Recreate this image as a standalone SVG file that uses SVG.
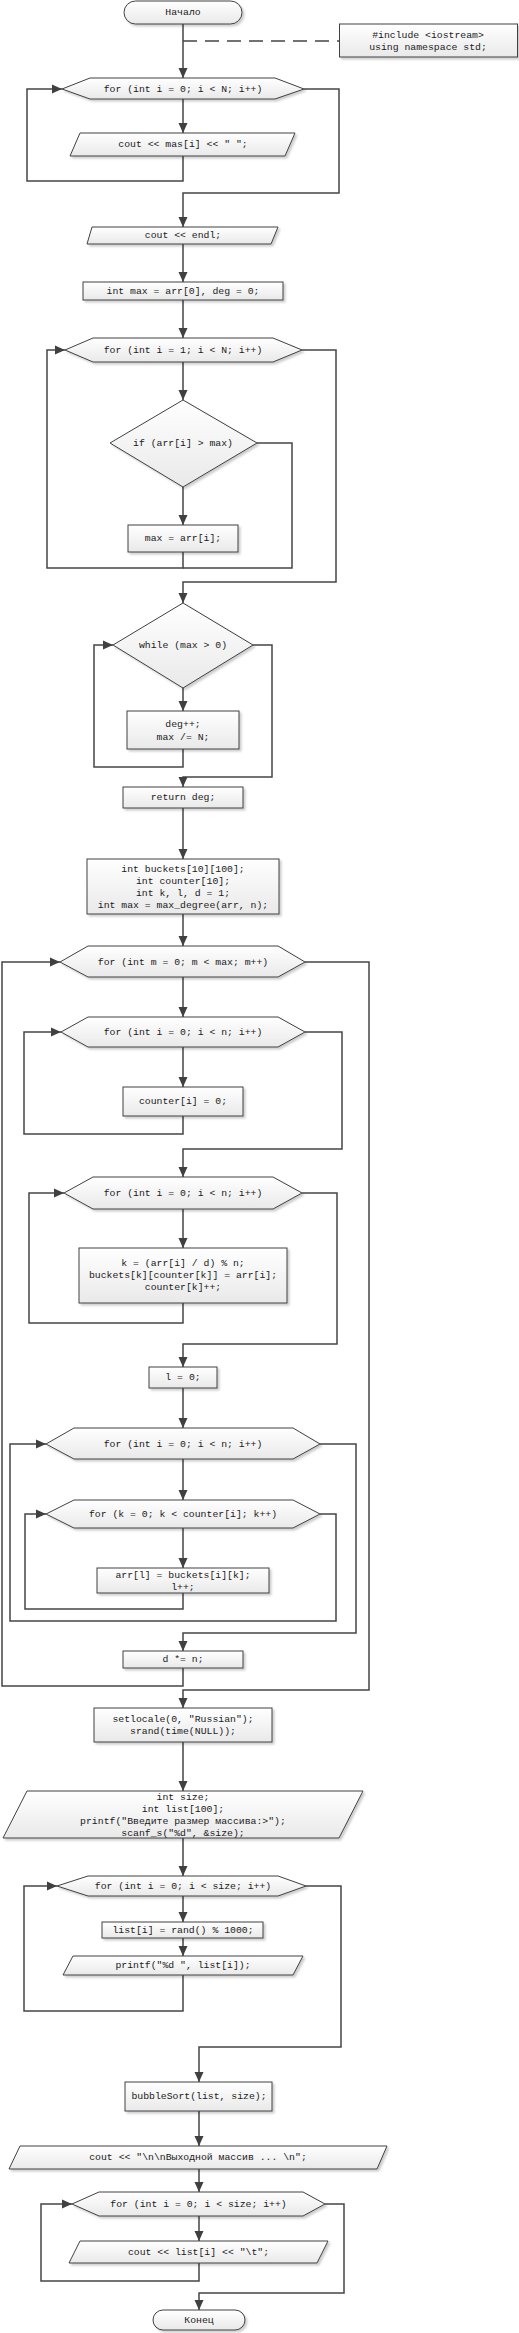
<svg xmlns="http://www.w3.org/2000/svg" width="519" height="2333" viewBox="0 0 519 2333">
<style>
.s{fill:url(#g);stroke:#404040;stroke-width:1;filter:url(#sh)}
.t{font-family:"Liberation Mono","Courier New",monospace;font-size:9.8px;fill:#1a1a1a;text-anchor:middle;dominant-baseline:central}
.c{fill:none;stroke:#454545;stroke-width:1.5}
.a{marker-end:url(#ah)}
.d{fill:none;stroke:#454545;stroke-width:1.5;stroke-dasharray:14,8}
</style>
<defs>
<linearGradient id="g" x1="0" y1="0" x2="0" y2="1">
<stop offset="0" stop-color="#ffffff"/>
<stop offset="1" stop-color="#e9e9e9"/>
</linearGradient>
<filter id="sh" x="-10%" y="-20%" width="130%" height="150%">
<feDropShadow dx="2" dy="2" stdDeviation="1" flood-color="#000" flood-opacity="0.2"/>
</filter>
<marker id="ah" markerUnits="userSpaceOnUse" markerWidth="10" markerHeight="10" refX="10" refY="5" orient="auto">
<path d="M0,0.5 L10,5 L0,9.5 Z" fill="#404040"/>
</marker>
</defs>

<g id="connectors">
<path class="c a" d="M183,24 V78"/>
<path class="d" d="M183,41 H339"/>
<path class="c a" d="M183,99 V133"/>
<path class="c a" d="M183,156 V181 H27 V89 H62"/>
<path class="c a" d="M304,89 H339 V193 H183 V227"/>
<path class="c a" d="M183,244 V282"/>
<path class="c a" d="M183,300 V338"/>
<path class="c a" d="M183,362 V400"/>
<path class="c a" d="M183,487 V525"/>
<path class="c a" d="M183,552 V568 H47 V350 H65"/>
<path class="c" d="M257,443 H292 V568 H183"/>
<path class="c a" d="M302,350 H336 V582 H183 V603"/>
<path class="c a" d="M183,688 V711"/>
<path class="c a" d="M183,749 V767 H94 V645 H113"/>
<path class="c a" d="M253,645 H272 V777 H183 V787"/>
<path class="c a" d="M183,808 V859"/>
<path class="c a" d="M183,914 V946"/>
<path class="c a" d="M183,977 V1017"/>
<path class="c a" d="M183,1047 V1087"/>
<path class="c a" d="M183,1116 V1134 H24 V1032 H61"/>
<path class="c a" d="M305,1032 H342 V1149 H183 V1177"/>
<path class="c a" d="M183,1209 V1248"/>
<path class="c a" d="M183,1303 V1323 H29 V1193 H64"/>
<path class="c a" d="M302,1193 H337 V1344 H183 V1367"/>
<path class="c a" d="M183,1388 V1428"/>
<path class="c a" d="M183,1459 V1500"/>
<path class="c a" d="M183,1528 V1568"/>
<path class="c a" d="M183,1593 V1609 H25 V1514 H46"/>
<path class="c a" d="M320,1514 H336 V1621 H10 V1444 H46"/>
<path class="c a" d="M320,1444 H356 V1633 H183 V1651"/>
<path class="c a" d="M183,1668 V1686 H2 V962 H60"/>
<path class="c a" d="M305,962 H369 V1690 H183 V1708"/>
<path class="c a" d="M183,1742 V1791"/>
<path class="c a" d="M183,1838 V1876"/>
<path class="c a" d="M183,1896 V1922"/>
<path class="c a" d="M183,1938 V1956"/>
<path class="c a" d="M183,1975 V2011 H24 V1886 H57"/>
<path class="c a" d="M306,1886 H341 V2047 H199 V2082"/>
<path class="c a" d="M199,2111 V2146"/>
<path class="c a" d="M199,2169 V2192"/>
<path class="c a" d="M199,2216 V2241"/>
<path class="c a" d="M199,2263 V2281 H41 V2204 H72"/>
<path class="c a" d="M325,2204 H344 V2293 H199 V2310"/>
</g>

<g id="start"><rect class="s" x="124" y="1" width="118" height="23" rx="11.5"/><text class="t" x="183" y="12.5">Начало</text></g>
<g id="include"><rect class="s" x="339.5" y="24" width="178" height="33"/><text class="t" x="428" y="35">#include &lt;iostream&gt;</text><text class="t" x="428" y="47">using namespace std;</text></g>
<g id="for1"><polygon class="s" points="62,89 90,78 275,78 304,89 275,99 90,99"/><text class="t" x="183" y="89">for (int i = 0; i &lt; N; i++)</text></g>
<g id="out1"><polygon class="s" points="80,133 295,133 285,156 70,156"/><text class="t" x="183" y="144.5">cout &lt;&lt; mas[i] &lt;&lt; " ";</text></g>
<g id="out2"><polygon class="s" points="92,227 278,227 271,244 87,244"/><text class="t" x="183" y="235.5">cout &lt;&lt; endl;</text></g>
<g id="initmax"><rect class="s" x="83" y="282" width="200" height="18"/><text class="t" x="183" y="291">int max = arr[0], deg = 0;</text></g>
<g id="for2"><polygon class="s" points="65,350 93,338 273,338 302,350 273,362 93,362"/><text class="t" x="183" y="350">for (int i = 1; i &lt; N; i++)</text></g>
<g id="if1"><polygon class="s" points="183,400 257,443 183,487 110,443"/><text class="t" x="183" y="443">if (arr[i] &gt; max)</text></g>
<g id="setmax"><rect class="s" x="128" y="525" width="110" height="27"/><text class="t" x="183" y="538.5">max = arr[i];</text></g>
<g id="while1"><polygon class="s" points="183,603 253,645 183,688 113,645"/><text class="t" x="183" y="645">while (max &gt; 0)</text></g>
<g id="degbox"><rect class="s" x="127" y="711" width="112" height="38"/><text class="t" x="183" y="724">deg++;</text><text class="t" x="183" y="737">max /= N;</text></g>
<g id="ret"><rect class="s" x="123" y="787" width="120" height="21"/><text class="t" x="183" y="797.5">return deg;</text></g>
<g id="decl"><rect class="s" x="87" y="859" width="192" height="55"/><text class="t" x="183" y="869">int buckets[10][100];</text><text class="t" x="183" y="881">int counter[10];</text><text class="t" x="183" y="893">int k, l, d = 1;</text><text class="t" x="183" y="905">int max = max_degree(arr, n);</text></g>
<g id="form"><polygon class="s" points="60,962 88,946 278,946 305,962 278,977 88,977"/><text class="t" x="183" y="962">for (int m = 0; m &lt; max; m++)</text></g>
<g id="fori1"><polygon class="s" points="61,1032 88,1017 278,1017 305,1032 278,1047 88,1047"/><text class="t" x="183" y="1032">for (int i = 0; i &lt; n; i++)</text></g>
<g id="counter0"><rect class="s" x="123" y="1087" width="120" height="29"/><text class="t" x="183" y="1101.5">counter[i] = 0;</text></g>
<g id="fori2"><polygon class="s" points="64,1193 93,1177 273,1177 302,1193 273,1209 93,1209"/><text class="t" x="183" y="1193">for (int i = 0; i &lt; n; i++)</text></g>
<g id="kbox"><rect class="s" x="79" y="1248" width="208" height="55"/><text class="t" x="183" y="1263">k = (arr[i] / d) % n;</text><text class="t" x="183" y="1275">buckets[k][counter[k]] = arr[i];</text><text class="t" x="183" y="1287">counter[k]++;</text></g>
<g id="l0"><rect class="s" x="149" y="1367" width="68" height="21"/><text class="t" x="183" y="1377.5">l = 0;</text></g>
<g id="fori3"><polygon class="s" points="46,1444 74,1428 293,1428 320,1444 293,1459 74,1459"/><text class="t" x="183" y="1444">for (int i = 0; i &lt; n; i++)</text></g>
<g id="fork"><polygon class="s" points="46,1514 74,1500 293,1500 320,1514 293,1528 74,1528"/><text class="t" x="183" y="1514">for (k = 0; k &lt; counter[i]; k++)</text></g>
<g id="arrl"><rect class="s" x="97" y="1568" width="172" height="25"/><text class="t" x="183" y="1575">arr[l] = buckets[i][k];</text><text class="t" x="183" y="1587">l++;</text></g>
<g id="dmul"><rect class="s" x="123" y="1651" width="120" height="17"/><text class="t" x="183" y="1659.5">d *= n;</text></g>
<g id="setloc"><rect class="s" x="94" y="1708" width="178" height="34"/><text class="t" x="183" y="1719">setlocale(0, "Russian");</text><text class="t" x="183" y="1731">srand(time(NULL));</text></g>
<g id="input"><polygon class="s" points="27,1791 363,1791 339,1838 3,1838"/><text class="t" x="183" y="1797">int size;</text><text class="t" x="183" y="1809">int list[100];</text><text class="t" x="183" y="1821">printf("Введите размер массива:&gt;");</text><text class="t" x="183" y="1833">scanf_s("%d", &amp;size);</text></g>
<g id="forsize1"><polygon class="s" points="57,1886 88,1876 278,1876 306,1886 278,1896 88,1896"/><text class="t" x="183" y="1886">for (int i = 0; i &lt; size; i++)</text></g>
<g id="rand"><rect class="s" x="102" y="1922" width="161" height="16"/><text class="t" x="183" y="1930">list[i] = rand() % 1000;</text></g>
<g id="printf1"><polygon class="s" points="73,1956 303,1956 293,1975 63,1975"/><text class="t" x="183" y="1965.5">printf("%d ", list[i]);</text></g>
<g id="bubble"><rect class="s" x="125" y="2082" width="147" height="29"/><text class="t" x="199" y="2096.5">bubbleSort(list, size);</text></g>
<g id="outmsg"><polygon class="s" points="20,2146 387,2146 377,2169 9,2169"/><text class="t" x="198" y="2157.5">cout &lt;&lt; "\n\nВыходной массив ... \n";</text></g>
<g id="forsize2"><polygon class="s" points="72,2204 99,2192 303,2192 325,2204 303,2216 99,2216"/><text class="t" x="198.5" y="2204">for (int i = 0; i &lt; size; i++)</text></g>
<g id="outlist"><polygon class="s" points="80,2241 328,2241 317,2263 69,2263"/><text class="t" x="198.5" y="2252">cout &lt;&lt; list[i] &lt;&lt; "\t";</text></g>
<g id="end"><rect class="s" x="153" y="2310" width="92" height="20" rx="10"/><text class="t" x="199" y="2320">Конец</text></g>
</svg>
